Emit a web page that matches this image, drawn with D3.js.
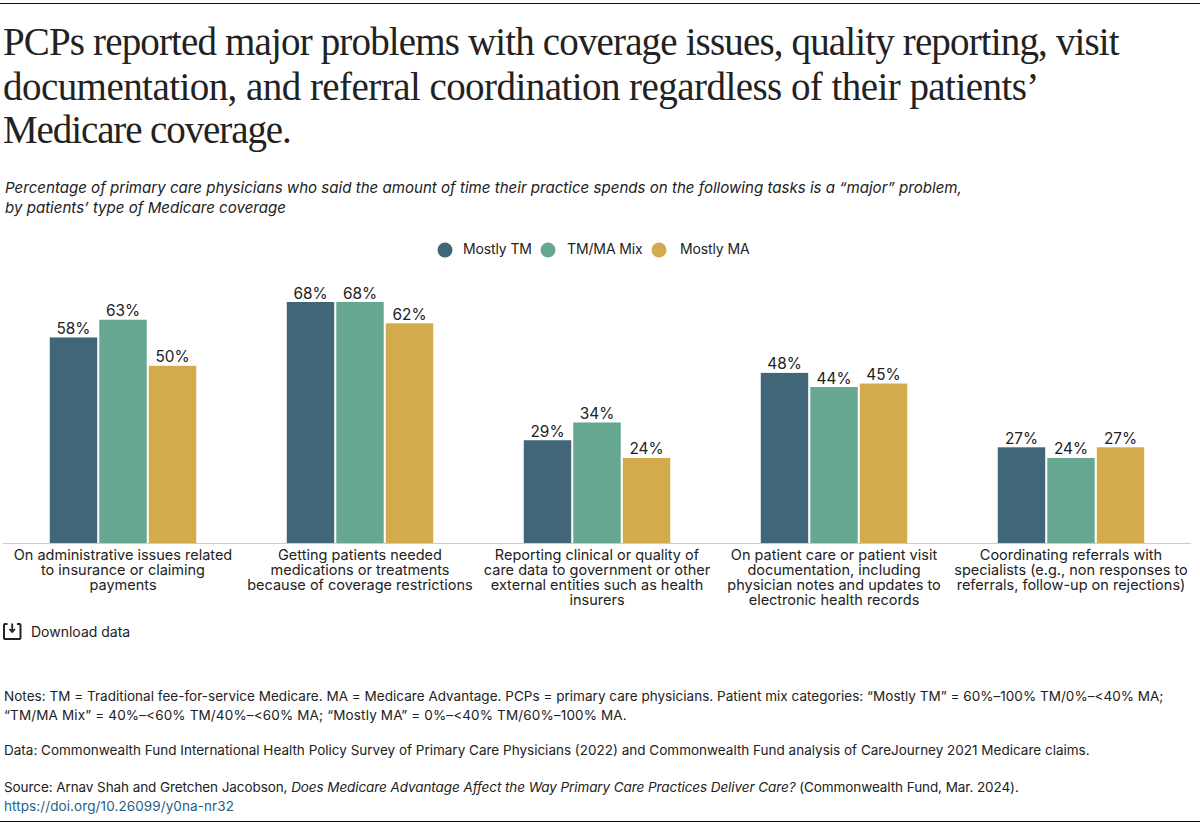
<!DOCTYPE html>
<html><head><meta charset="utf-8">
<script src="https://cdn.jsdelivr.net/npm/d3@7"></script>
<style>html,body{margin:0;padding:0;background:#fff}svg{display:block}</style>
</head><body><svg id="c" width="1200" height="825"></svg>
<script>
const categories=[
 ["On administrative issues related","to insurance or claiming","payments"],
 ["Getting patients needed","medications or treatments","because of coverage restrictions"],
 ["Reporting clinical or quality of","care data to government or other","external entities such as health","insurers"],
 ["On patient care or patient visit","documentation, including","physician notes and updates to","electronic health records"],
 ["Coordinating referrals with","specialists (e.g., non responses to","referrals, follow-up on rejections)"]];
const seriesNames=["Mostly TM","TM/MA Mix","Mostly MA"];
const mostlyTM=[58,68,29,48,27];
const mix=[63,68,34,44,24];
const mostlyMA=[50,62,24,45,27];
const colors=["#416677","#66a791","#d3ab4c"];
const titleLines=["PCPs reported major problems with coverage issues, quality reporting, visit","documentation, and referral coordination regardless of their patients’","Medicare coverage."];
const subLines=["Percentage of primary care physicians who said the amount of time their practice spends on the following tasks is a “major” problem,","by patients’ type of Medicare coverage"];
const sans="Inter, 'Open Sans', sans-serif";
const svg=d3.select("#c");
const ink="#222";
[3.5,821.5].forEach(y=>svg.append("line").attr("x1",0).attr("x2",1200).attr("y1",y).attr("y2",y).attr("stroke","#111").attr("stroke-width",1.2));
const titleSpacing=[-0.85,-0.55,-1.1];
titleLines.forEach((t,i)=>svg.append("text").attr("x",3).attr("y",[55,100,143][i]).text(t)
 .attr("font-family","'Liberation Serif',serif").attr("font-size",39).attr("fill","#222").attr("letter-spacing",titleSpacing[i]));
subLines.forEach((t,i)=>svg.append("text").attr("x",5).attr("y",193+i*20).text(t)
 .attr("font-family",sans).attr("font-style","italic").attr("font-size",15.08).attr("fill",ink));
const legendX=[445,548,659], legendT=[463,567,680];
seriesNames.forEach((s,i)=>{
 svg.append("circle").attr("cx",legendX[i]).attr("cy",250).attr("r",7.5).attr("fill",colors[i]);
 svg.append("text").attr("x",legendT[i]).attr("y",254).text(s).attr("font-family",sans).attr("font-size",14).attr("letter-spacing",-0.12).attr("fill",ink);
});
const y=d3.scaleLinear().domain([0,68]).range([543,302]);
const x0=d3.scaleBand().domain(d3.range(5)).range([4.5,1189.5]).paddingInner(0.382).paddingOuter(0.191);
const x1=d3.scaleBand().domain(seriesNames).range([0,x0.bandwidth()]).paddingInner(0.042);
const vals=[mostlyTM,mix,mostlyMA];
seriesNames.forEach((s,si)=>{
 const g=svg.append("g");
 g.selectAll("rect").data(vals[si]).join("rect")
  .attr("x",(d,i)=>x0(i)+x1(s)).attr("width",x1.bandwidth())
  .attr("y",d=>y(d)).attr("height",d=>y(0)-y(d)).attr("fill",colors[si]);
 g.selectAll("text").data(vals[si]).join("text")
  .attr("x",(d,i)=>x0(i)+x1(s)+x1.bandwidth()/2).attr("y",d=>y(d)-3.5)
  .attr("text-anchor","middle").attr("font-family",sans).attr("font-size",15.4).attr("fill",ink).text(d=>d+"%");
});
svg.append("line").attr("x1",3).attr("x2",1191).attr("y1",543.5).attr("y2",543.5).attr("stroke","#ccc");
categories.forEach((lines,i)=>{
 const cx=x0(i)+x0.bandwidth()/2;
 const t=svg.append("text").attr("text-anchor","middle").attr("font-family",sans).attr("font-size",14.5).attr("fill",ink);
 lines.forEach((l,j)=>t.append("tspan").attr("x",cx).attr("y",560+j*15).text(l));
});
const ic=svg.append("g").attr("fill","none").attr("stroke","#222").attr("stroke-width",2);
ic.append("path").attr("d","M7.5,624 H5 Q4,624 4,625 V638 Q4,639 5,639 H19.5 Q20.5,639 20.5,638 V625 Q20.5,624 19.5,624 H17");
ic.append("path").attr("stroke-width",1.8).attr("d","M12.2,623.5 V631.5 M9.4,629 L12.2,632 L15,629");
svg.append("text").attr("x",31).attr("y",637).text("Download data").attr("font-family",sans).attr("font-size",14).attr("fill",ink);
const fs=13.5;
const note=(x,yy,parts,ls)=>{const t=svg.append("text").attr("x",x).attr("y",yy).attr("font-family",sans).attr("font-size",fs).attr("fill",ink).attr("letter-spacing",ls||0);
 parts.forEach(p=>{const ts=t.append("tspan").text(p.t); if(p.i)ts.attr("font-style","italic"); if(p.c)ts.attr("fill",p.c);});};
note(4,701,[{t:"Notes: TM = Traditional fee-for-service Medicare. MA = Medicare Advantage. PCPs = primary care physicians. Patient mix categories: “Mostly TM” = 60%–100% TM/0%–<40% MA;"}],0.025);
note(4,720,[{t:"“TM/MA Mix” = 40%–<60% TM/40%–<60% MA; “Mostly MA” = 0%–<40% TM/60%–100% MA."}],0.14);
note(4,755,[{t:"Data: Commonwealth Fund International Health Policy Survey of Primary Care Physicians (2022) and Commonwealth Fund analysis of CareJourney 2021 Medicare claims."}]);
note(4,792,[{t:"Source: Arnav Shah and Gretchen Jacobson, "},{t:"Does Medicare Advantage Affect the Way Primary Care Practices Deliver Care?",i:1},{t:" (Commonwealth Fund, Mar. 2024)."}],-0.08);
note(4,811,[{t:"https://doi.org/10.26099/y0na-nr32",c:"#1f5f86"}],0.09);
</script></body></html>
